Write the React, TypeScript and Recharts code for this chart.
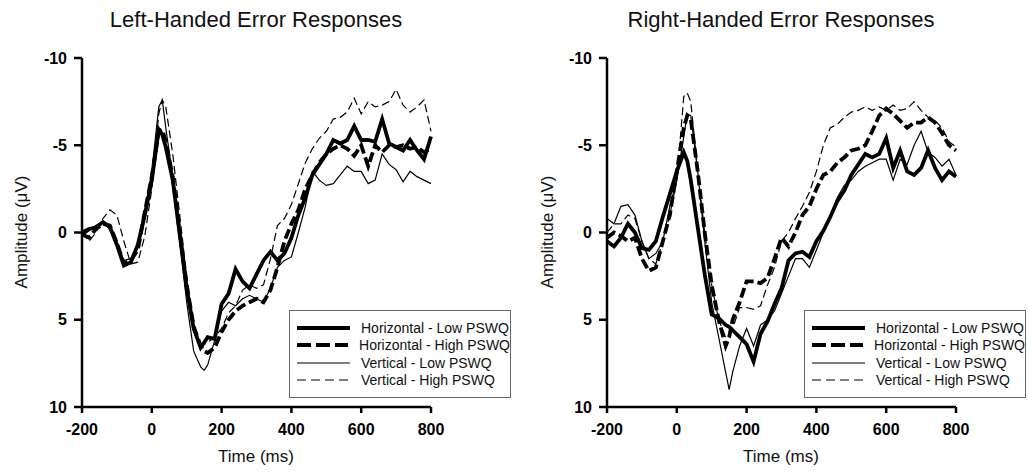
import React from "react";
import { LineChart, Line, XAxis, YAxis, Legend } from "recharts";

// time points (ms) shared by every trace
const TIME = [
  -200, -180, -160, -140, -120, -100, -80, -60, -40, -20, 0, 20, 30, 40, 60, 80, 100, 120, 140, 150,
  160, 180, 200, 220, 240, 260, 280, 300, 320, 340, 360, 380, 400, 420, 440, 460, 480, 500, 520, 540,
  560, 580, 600, 620, 640, 660, 680, 700, 720, 740, 760, 780, 800,
];

// left-handed error responses (µV)
const LEFT_H_LOW = [
  0, -0.2, -0.3, -0.6, -0.3, 0.7, 1.9, 1.7, 0.7, -1.0, -3.0, -5.9, -5.6, -4.9, -3.0, 0.1, 3.2, 5.5, 6.6, 6.3,
  6.0, 6.1, 4.1, 3.5, 2.1, 2.8, 3.2, 2.4, 1.6, 1.1, 1.6, 1.2, 0.3, -1.0, -2.0, -3.3, -3.9, -4.5, -5.3, -5.1,
  -5.3, -6.1, -5.3, -5.3, -5.2, -6.5, -5.1, -4.9, -4.7, -5.3, -4.7, -4.2, -5.5,
];
const LEFT_H_HIGH = [
  0.1, 0.3, -0.2, -0.5, -0.4, 0.6, 1.8, 1.6, 1.0, -1.2, -3.2, -5.8, -5.9, -5.2, -3.2, 0.0, 3.0, 5.4, 6.5, 6.8,
  6.9, 6.6, 5.7, 5.0, 4.5, 4.2, 4.0, 3.8, 4.0, 3.3, 2.0, 0.5, -0.5, -1.3, -2.5, -3.3, -4.0, -4.5, -4.8, -5.0,
  -4.8, -4.4, -5.0, -3.8, -5.0, -4.6, -5.0, -4.9, -5.0, -4.8, -4.9, -4.6, -4.8,
];
const LEFT_V_LOW = [
  0.2, -0.1, -0.4, -0.6, -0.2, 0.6, 1.6, 1.5, 0.8, -1.2, -3.5, -7.2, -7.6, -6.0, -3.2, 0.5, 4.0, 6.8, 7.7, 7.9,
  7.6, 6.2, 4.5, 4.0, 4.2, 3.8, 3.6, 3.8, 4.0, 3.2, 2.0, 1.6, 1.4, 0.0, -1.5, -3.5, -3.0, -2.7, -2.8, -3.3,
  -3.8, -3.5, -3.5, -2.8, -3.0, -4.5, -3.9, -3.6, -2.9, -3.5, -3.2, -3.0, -2.8,
];
const LEFT_V_HIGH = [
  0.0, 0.5, 0.0, -0.8, -1.3, -1.0, 0.5, 1.8, 1.7, 0.2, -2.5, -6.8, -7.6, -7.2, -4.5, -1.0, 2.5, 5.5, 6.5, 6.4,
  6.3, 6.0, 5.5, 4.6, 4.2, 3.3, 3.0, 3.2, 3.0, 1.5, -0.4, -0.8, -1.6, -2.8, -4.0, -4.8, -5.4, -5.8, -6.5, -6.6,
  -6.9, -7.7, -6.8, -7.5, -7.2, -7.3, -7.5, -8.2, -7.3, -6.9, -7.2, -7.6, -5.8,
];

// right-handed error responses (µV)
const RIGHT_H_LOW = [
  0.5, 0.8, 0.3, -0.5, 0.0, 0.9, 1.0, 0.5, -0.9, -2.2, -3.5, -4.6, -4.1, -3.0, -0.3, 2.4, 4.7, 4.9, 5.3, 5.4,
  5.6, 6.0, 6.4, 7.4, 5.8, 5.1, 4.1, 3.2, 1.6, 1.2, 1.1, 1.4, 0.5, -0.1, -0.9, -1.8, -2.4, -3.3, -3.9, -4.5,
  -4.3, -4.5, -5.4, -3.7, -4.7, -3.5, -3.3, -3.7, -4.7, -3.7, -3.0, -3.5, -3.2,
];
const RIGHT_H_HIGH = [
  0.3, 0.0, 0.2, 0.5, 0.3, 1.5, 2.2, 2.0, 0.5, -1.0, -3.5, -6.0, -6.7, -6.5, -3.5, 0.0, 3.0, 5.0, 6.5, 6.0,
  5.0, 4.0, 2.8, 2.8, 2.9, 2.6, 1.5, 0.3, 0.8, 0.0, -1.0, -1.5, -2.5, -3.3, -3.5, -4.0, -4.3, -4.7, -4.8, -5.0,
  -5.8, -6.7, -7.1, -6.8, -6.4, -6.0, -6.3, -6.3, -6.6, -6.3, -5.7, -5.0, -4.7,
];
const RIGHT_V_LOW = [
  -0.8, -0.5, -1.5, -1.6, -1.0, 0.5, 1.5, 1.2, 0.5, -1.5, -3.0, -5.5, -6.8, -6.7, -3.5, 0.5, 4.0, 6.0, 8.0, 9.0,
  8.0, 6.5, 5.5, 6.5, 5.3, 5.0, 4.5, 3.5, 2.5, 1.5, 1.5, 2.0, 1.0, 0.0, -1.0, -2.0, -2.7, -3.0, -3.5, -3.8,
  -4.0, -4.2, -4.2, -3.0, -4.2, -3.9, -5.0, -5.8, -4.6, -4.3, -3.8, -4.2, -3.3,
];
const RIGHT_V_HIGH = [
  0.0, -0.5, -0.5, -1.0, -0.8, 0.5, 1.5, 1.8, 0.5, -1.0, -3.0, -7.8, -8.0, -7.5, -3.5, 0.0, 3.0, 5.0, 6.0, 5.8,
  5.5, 4.3, 4.3, 4.4, 4.2, 3.0, 2.0, 0.5, 0.0, -0.8, -1.5, -2.3, -3.5, -5.0, -6.0, -6.2, -6.6, -6.9, -7.0, -7.2,
  -7.0, -7.2, -7.0, -7.3, -7.0, -7.1, -7.5, -7.0, -6.6, -6.4, -6.0, -5.2, -4.9,
];

const X_TICKS = [-200, 0, 200, 400, 600, 800];
const Y_TICKS = [-10, -5, 0, 5, 10];

const SERIES = [
  { key: "hLow", name: "Horizontal - Low PSWQ", width: 3.8, dash: undefined },
  { key: "hHigh", name: "Horizontal - High PSWQ", width: 3.8, dash: "10 4" },
  { key: "vLow", name: "Vertical - Low PSWQ", width: 1.2, dash: undefined },
  { key: "vHigh", name: "Vertical - High PSWQ", width: 1.2, dash: "8 4" },
];

const FONT = "Arial, 'Liberation Sans', Helvetica, sans-serif";

const buildRows = (hLow: number[], hHigh: number[], vLow: number[], vHigh: number[]) =>
  TIME.map((t, i) => ({ t, hLow: hLow[i], hHigh: hHigh[i], vLow: vLow[i], vHigh: vHigh[i] }));

const LEFT_DATA = buildRows(LEFT_H_LOW, LEFT_H_HIGH, LEFT_V_LOW, LEFT_V_HIGH);
const RIGHT_DATA = buildRows(RIGHT_H_LOW, RIGHT_H_HIGH, RIGHT_V_LOW, RIGHT_V_HIGH);

function LegendBox() {
  return (
    <div style={{ border: "1px solid #666", background: "#fff", padding: "8px 0 8px 7px", fontFamily: FONT }}>
      {SERIES.map(s => (
        <div key={s.key} style={{ display: "flex", alignItems: "center", height: 17.5 }}>
          <svg width={53} height={8} style={{ marginRight: 11 }}>
            <line x1={0} y1={4} x2={53} y2={4} stroke="#000" strokeWidth={s.width === 1.2 ? 1 : 4}
              strokeDasharray={s.dash ? (s.width === 1.2 ? "9 5" : "14 5") : undefined} />
          </svg>
          <span style={{ fontSize: 14, color: "#111", whiteSpace: "nowrap" }}>{s.name}</span>
        </div>
      ))}
    </div>
  );
}

function Panel({ data, left, marginLeft, marginRight, legendLeft }: any) {
  return (
    <div style={{ position: "absolute", left, top: 0 }}>
      <LineChart width={514} height={473} data={data}
        margin={{ top: 58, right: marginRight, bottom: 36, left: marginLeft }}>
        <XAxis dataKey="t" type="number" domain={[-200, 800]} ticks={X_TICKS} height={30}
          axisLine={{ stroke: "#000", strokeWidth: 2.5 }} tickLine={{ stroke: "#000", strokeWidth: 2.5 }}
          tickSize={6} tickMargin={11}
          tick={{ fill: "#000", fontSize: 16, fontWeight: "bold", fontFamily: FONT }} />
        <YAxis type="number" domain={[-10, 10]} ticks={Y_TICKS} reversed width={60}
          axisLine={{ stroke: "#000", strokeWidth: 2.5 }} tickLine={{ stroke: "#000", strokeWidth: 2.5 }}
          tickSize={8} tickMargin={7}
          tick={{ fill: "#000", fontSize: 16, fontWeight: "bold", fontFamily: FONT }} />
        <Legend layout="vertical" align="center" verticalAlign="middle"
          wrapperStyle={{ left: legendLeft, top: 310, width: 222 }}
          content={() => <LegendBox />} />
        {SERIES.map(s => (
          <Line key={s.key} dataKey={s.key} name={s.name} type="linear" stroke="#000"
            strokeWidth={s.width} strokeDasharray={s.dash} dot={false} isAnimationActive={false} />
        ))}
      </LineChart>
    </div>
  );
}

const textBase: React.CSSProperties = { position: "absolute", fontFamily: FONT, color: "#111", whiteSpace: "nowrap" };

export default function App() {
  return (
    <div style={{ position: "absolute", left: 0, top: 0, width: 1028, height: 473, background: "#fff", overflow: "hidden" }}>
      <Panel data={LEFT_DATA} left={0} marginLeft={22} marginRight={83} legendLeft={289} />
      <Panel data={RIGHT_DATA} left={514} marginLeft={33} marginRight={72} legendLeft={290} />

      <div style={{ ...textBase, left: 256, top: 20, fontSize: 22, transform: "translate(-50%, -50%)" }}>
        Left-Handed Error Responses
      </div>
      <div style={{ ...textBase, left: 781, top: 20, fontSize: 22, transform: "translate(-50%, -50%)" }}>
        Right-Handed Error Responses
      </div>

      <div style={{ ...textBase, left: 256, top: 457, fontSize: 17, transform: "translate(-50%, -50%)" }}>Time (ms)</div>
      <div style={{ ...textBase, left: 781, top: 457, fontSize: 17, transform: "translate(-50%, -50%)" }}>Time (ms)</div>

      <div style={{ ...textBase, left: 22, top: 232, fontSize: 17, transform: "translate(-50%, -50%) rotate(-90deg)" }}>
        Amplitude (μV)
      </div>
      <div style={{ ...textBase, left: 548, top: 232, fontSize: 17, transform: "translate(-50%, -50%) rotate(-90deg)" }}>
        Amplitude (μV)
      </div>
    </div>
  );
}
